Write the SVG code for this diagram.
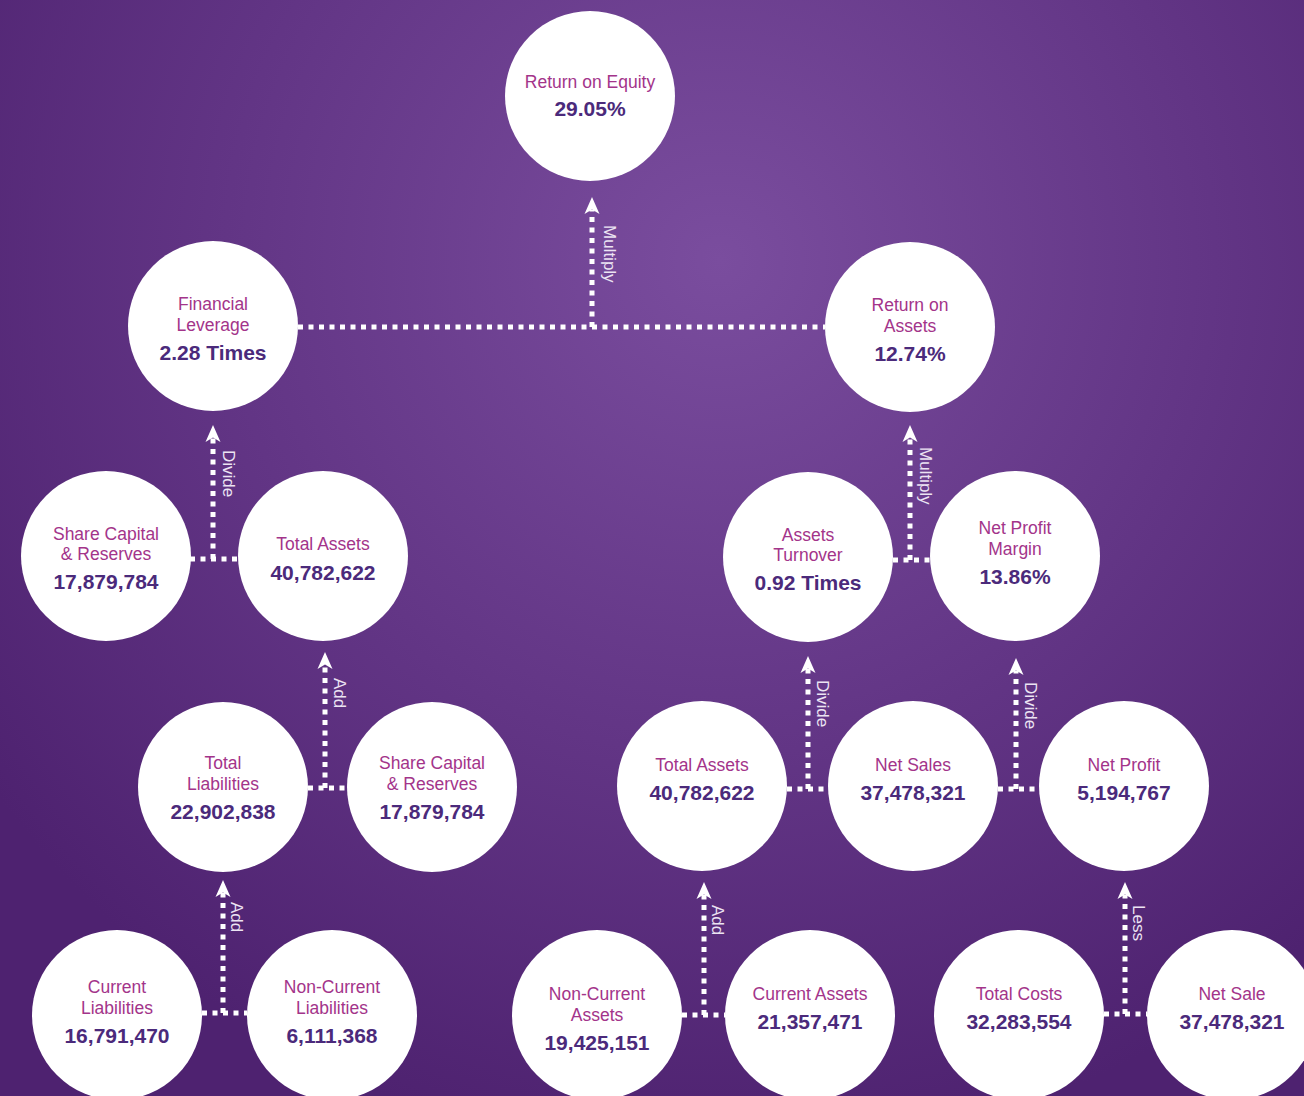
<svg xmlns="http://www.w3.org/2000/svg" width="1304" height="1096" viewBox="0 0 1304 1096">
<defs>
<radialGradient id="bg" gradientUnits="userSpaceOnUse" cx="720" cy="260" r="900">
<stop offset="0" stop-color="#7a4d9e"/>
<stop offset="0.55" stop-color="#623585"/>
<stop offset="1" stop-color="#4e2270"/>
</radialGradient>
<path id="ah" d="M0,0 L7.5,17 L0,12.5 L-7.5,17 Z" fill="#ffffff"/>
</defs>
<style>
.c{fill:#ffffff}
.l{font-family:"Liberation Sans",Arial,sans-serif;font-size:17.5px;fill:#a3348a;text-anchor:middle}
.v{font-family:"Liberation Sans",Arial,sans-serif;font-size:21px;font-weight:bold;fill:#4b2a7b;text-anchor:middle}
.d{stroke:#ffffff;stroke-width:5;stroke-dasharray:5 5.5;fill:none}
.o{font-family:"Liberation Sans",Arial,sans-serif;font-size:17px;fill:#ece4f3}
</style>
<rect width="1304" height="1096" fill="url(#bg)"/>
<g id="connectors">
<path class="d" d="M298,327 H825 M592,327 V210"/>
<use href="#ah" x="592" y="197"/>
<text class="o" transform="translate(604,225) rotate(90)">Multiply</text>

<path class="d" d="M190,559 H238 M213,559 V438"/>
<use href="#ah" x="213" y="425"/>
<text class="o" transform="translate(223,450) rotate(90)">Divide</text>

<path class="d" d="M893,560 H930 M910,560 V438"/>
<use href="#ah" x="910" y="425"/>
<text class="o" transform="translate(920,447) rotate(90)">Multiply</text>

<path class="d" d="M308,788 H347 M325,788 V665"/>
<use href="#ah" x="325" y="652"/>
<text class="o" transform="translate(334,678) rotate(90)">Add</text>

<path class="d" d="M787,789 H828 M808,789 V669"/>
<use href="#ah" x="808" y="656"/>
<text class="o" transform="translate(817,680) rotate(90)">Divide</text>

<path class="d" d="M998,789 H1039 M1016,789 V671"/>
<use href="#ah" x="1016" y="658"/>
<text class="o" transform="translate(1025,682) rotate(90)">Divide</text>

<path class="d" d="M202,1013 H247 M223,1013 V893"/>
<use href="#ah" x="223" y="880"/>
<text class="o" transform="translate(231,902) rotate(90)">Add</text>

<path class="d" d="M682,1015 H725 M704,1015 V895"/>
<use href="#ah" x="704" y="882"/>
<text class="o" transform="translate(712,905) rotate(90)">Add</text>

<path class="d" d="M1104,1014 H1147 M1125,1014 V895"/>
<use href="#ah" x="1125" y="882"/>
<text class="o" transform="translate(1133,905) rotate(90)">Less</text>
</g>

<g id="roe"><circle class="c" cx="590" cy="96" r="85"/><text class="l" x="590" y="88">Return on Equity</text><text class="v" x="590" y="116">29.05%</text></g>
<g id="financial-leverage"><circle class="c" cx="213" cy="326" r="85"/><text class="l" x="213" y="310">Financial</text><text class="l" x="213" y="331">Leverage</text><text class="v" x="213" y="360">2.28 Times</text></g>
<g id="roa"><circle class="c" cx="910" cy="327" r="85"/><text class="l" x="910" y="311">Return on</text><text class="l" x="910" y="332">Assets</text><text class="v" x="910" y="361">12.74%</text></g>
<g id="share-capital-1"><circle class="c" cx="106" cy="556" r="85"/><text class="l" x="106" y="540">Share Capital</text><text class="l" x="106" y="560">&amp; Reserves</text><text class="v" x="106" y="589">17,879,784</text></g>
<g id="total-assets-1"><circle class="c" cx="323" cy="556" r="85"/><text class="l" x="323" y="550">Total Assets</text><text class="v" x="323" y="580">40,782,622</text></g>
<g id="assets-turnover"><circle class="c" cx="808" cy="557" r="85"/><text class="l" x="808" y="541">Assets</text><text class="l" x="808" y="561">Turnover</text><text class="v" x="808" y="590">0.92 Times</text></g>
<g id="net-profit-margin"><circle class="c" cx="1015" cy="556" r="85"/><text class="l" x="1015" y="534">Net Profit</text><text class="l" x="1015" y="555">Margin</text><text class="v" x="1015" y="584">13.86%</text></g>
<g id="total-liabilities"><circle class="c" cx="223" cy="787" r="85"/><text class="l" x="223" y="769">Total</text><text class="l" x="223" y="790">Liabilities</text><text class="v" x="223" y="819">22,902,838</text></g>
<g id="share-capital-2"><circle class="c" cx="432" cy="787" r="85"/><text class="l" x="432" y="769">Share Capital</text><text class="l" x="432" y="790">&amp; Reserves</text><text class="v" x="432" y="819">17,879,784</text></g>
<g id="total-assets-2"><circle class="c" cx="702" cy="786" r="85"/><text class="l" x="702" y="771">Total Assets</text><text class="v" x="702" y="800">40,782,622</text></g>
<g id="net-sales"><circle class="c" cx="913" cy="786" r="85"/><text class="l" x="913" y="771">Net Sales</text><text class="v" x="913" y="800">37,478,321</text></g>
<g id="net-profit"><circle class="c" cx="1124" cy="786" r="85"/><text class="l" x="1124" y="771">Net Profit</text><text class="v" x="1124" y="800">5,194,767</text></g>
<g id="current-liabilities"><circle class="c" cx="117" cy="1015" r="85"/><text class="l" x="117" y="993">Current</text><text class="l" x="117" y="1014">Liabilities</text><text class="v" x="117" y="1043">16,791,470</text></g>
<g id="non-current-liabilities"><circle class="c" cx="332" cy="1015" r="85"/><text class="l" x="332" y="993">Non-Current</text><text class="l" x="332" y="1014">Liabilities</text><text class="v" x="332" y="1043">6,111,368</text></g>
<g id="non-current-assets"><circle class="c" cx="597" cy="1015" r="85"/><text class="l" x="597" y="1000">Non-Current</text><text class="l" x="597" y="1021">Assets</text><text class="v" x="597" y="1050">19,425,151</text></g>
<g id="current-assets"><circle class="c" cx="810" cy="1015" r="85"/><text class="l" x="810" y="1000">Current Assets</text><text class="v" x="810" y="1029">21,357,471</text></g>
<g id="total-costs"><circle class="c" cx="1019" cy="1015" r="85"/><text class="l" x="1019" y="1000">Total Costs</text><text class="v" x="1019" y="1029">32,283,554</text></g>
<g id="net-sale"><circle class="c" cx="1232" cy="1015" r="85"/><text class="l" x="1232" y="1000">Net Sale</text><text class="v" x="1232" y="1029">37,478,321</text></g>
</svg>
